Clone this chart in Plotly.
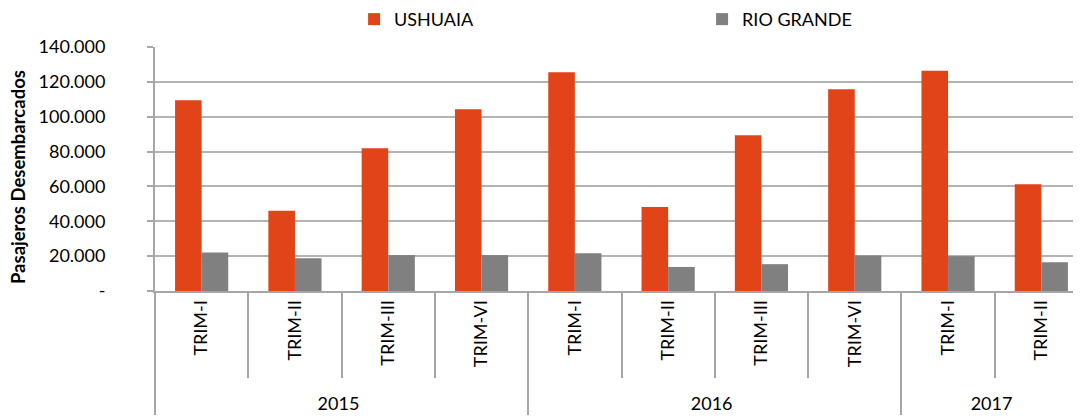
import plotly.graph_objects as go

years = ["2015"] * 4 + ["2016"] * 4 + ["2017"] * 2
quarters = ["TRIM-I", "TRIM-II", "TRIM-III", "TRIM-VI",
            "TRIM-I", "TRIM-II", "TRIM-III", "TRIM-VI",
            "TRIM-I", "TRIM-II"]
ushuaia = [109500, 46100, 81900, 104300, 125500, 48200, 89300, 115700, 126400, 61200]
rio_grande = [22100, 18800, 20600, 20600, 21700, 13800, 15400, 20400, 20000, 16500]
y_tick_vals = [0, 20000, 40000, 60000, 80000, 100000, 120000, 140000]
y_tick_text = ["-", "20.000", "40.000", "60.000", "80.000", "100.000", "120.000", "140.000"]

FONT = "Lato"
ORANGE = "#E04418"
GRAY = "#808080"
LINE = "#A6A6A6"

# non-breaking padding pushes the year row a little lower, like the reference
pad = "\u00a0\u00a0"
quarter_labels = [pad + q for q in quarters]

fig = go.Figure()
fig.add_trace(go.Bar(x=[years, quarter_labels], y=ushuaia, name="USHUAIA",
                     marker=dict(color=ORANGE, line=dict(width=0))))
fig.add_trace(go.Bar(x=[years, quarter_labels], y=rio_grande, name="RIO GRANDE",
                     marker=dict(color=GRAY, line=dict(width=0))))

fig.update_layout(
    width=1073, height=410,
    margin=dict(l=147, r=0, t=39, b=127, autoexpand=False),
    paper_bgcolor="white", plot_bgcolor="white",
    font=dict(family=FONT, size=18, color="#000000"),
    barmode="group", bargap=0.43, bargroupgap=0,
    showlegend=True,
    legend=dict(orientation="h", x=0.215, xanchor="left", y=1.113, yanchor="middle",
                font=dict(family=FONT, size=18), entrywidth=303, entrywidthmode="pixels",
                itemwidth=30, bgcolor="rgba(0,0,0,0)"),
    xaxis=dict(
        type="multicategory", range=[-0.5, 9.425],
        showline=True, linecolor=LINE, linewidth=2,
        ticks="outside", tickson="boundaries", ticklen=85, tickcolor=LINE, tickwidth=1.5,
        tickangle=-90, tickfont=dict(family=FONT, size=18),
        showdividers=True, dividercolor=LINE, dividerwidth=1.5,
        showgrid=False, automargin=False,
    ),
    yaxis=dict(
        range=[0, 140000], tickvals=y_tick_vals, ticktext=y_tick_text,
        showline=True, linecolor=LINE, linewidth=2,
        ticks="outside", ticklen=6, tickcolor=LINE, tickwidth=1.5,
        ticklabelstandoff=38,
        showgrid=True, gridcolor="#B3B3B3", gridwidth=2,
        zeroline=False, tickfont=dict(family=FONT, size=18),
        automargin=False,
    ),
    annotations=[dict(text="<b>Pasajeros Desembarcados</b>", textangle=-90,
                      xref="paper", yref="paper", x=(10 - 147) / 926, y=0.467,
                      xanchor="center", yanchor="middle", showarrow=False,
                      font=dict(family=FONT, size=18.5, color="#000000"))],
)

fig.write_html("out.html")
